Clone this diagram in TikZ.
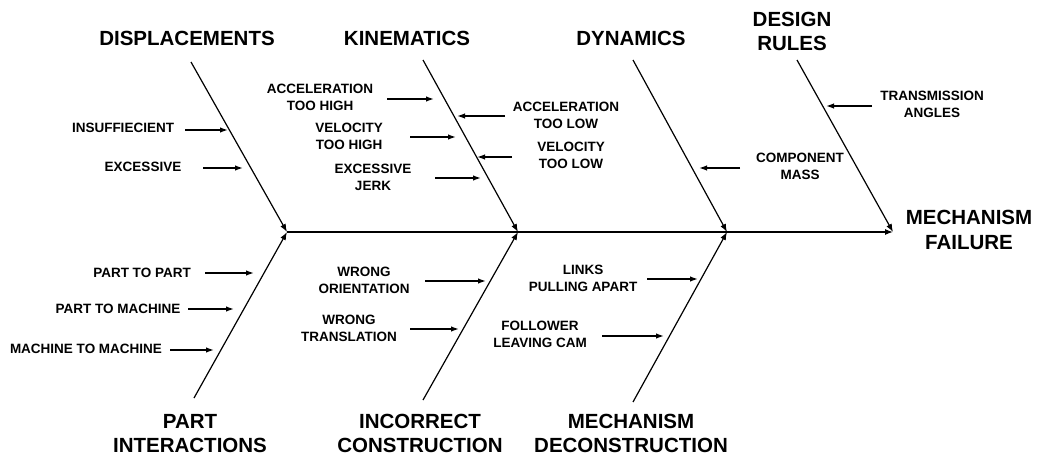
\documentclass[tikz,border=0pt]{standalone}
\usepackage{fontspec}
\setmainfont{Liberation Sans}
\usetikzlibrary{arrows.meta}
\begin{document}
\begin{tikzpicture}[x=1pt,y=-1pt,
  big/.style={font=\fontsize{20.5}{24.5}\selectfont\bfseries, align=center, inner sep=0pt},
  small/.style={font=\fontsize{13.5}{17}\selectfont\bfseries, align=center, inner sep=0pt},
  bone/.style={line width=1.2pt, -{Latex[length=8pt,width=6pt]}},
  cause/.style={line width=1.4pt, -{Latex[length=8pt,width=5.5pt]}}]
\useasboundingbox (0,0) rectangle (1038,476);
% spine junctions
\coordinate (J1) at (287,232);
\coordinate (J2) at (518,232);
\coordinate (J3) at (727,232);
\coordinate (J4) at (893,232);
\coordinate (T1) at (191,62);
\coordinate (T2) at (423,60);
\coordinate (T3) at (633,60);
\coordinate (T4) at (797,60);
\coordinate (B1) at (194,398);
\coordinate (B2) at (423,400);
\coordinate (B3) at (633,402);
\draw[bone] (J1) -- (J4);
\draw[bone] (T1) -- (J1);
\draw[bone] (T2) -- (J2);
\draw[bone] (T3) -- (J3);
\draw[bone] (T4) -- (J4);
\draw[bone] (B1) -- (J1);
\draw[bone] (B2) -- (J2);
\draw[bone] (B3) -- (J3);
% main labels
\node[big] (displ) at (187,38) {DISPLACEMENTS};
\node[big] (kin) at (407,38) {KINEMATICS};
\node[big] (dyn) at (631,38) {DYNAMICS};
\node[big] (design) at (792,31.5) {DESIGN\\RULES};
\node[big] (fail) at (969,230) {MECHANISM\\FAILURE};
\node[big] (partint) at (190,433.5) {PART\\INTERACTIONS};
\node[big] (incor) at (420,433.5) {INCORRECT\\CONSTRUCTION};
\node[big] (mechdec) at (631,433.5) {MECHANISM\\DECONSTRUCTION};
% causes
\node[small] (insuf) at (123,128) {INSUFFIECIENT};
\coordinate (insufA) at (185,130); \coordinate (insufB) at (228,130);
\draw[cause] (insufA) -- (insufB);
\node[small] (exc) at (143,167) {EXCESSIVE};
\coordinate (excA) at (203,168); \coordinate (excB) at (243,168);
\draw[cause] (excA) -- (excB);
\node[small] (acch) at (320,97.5) {ACCELERATION\\TOO HIGH};
\coordinate (acchA) at (387,99); \coordinate (acchB) at (434,99);
\draw[cause] (acchA) -- (acchB);
\node[small] (velh) at (349,136.5) {VELOCITY\\TOO HIGH};
\coordinate (velhA) at (410,137); \coordinate (velhB) at (456,137);
\draw[cause] (velhA) -- (velhB);
\node[small] (jerk) at (373,177) {EXCESSIVE\\JERK};
\coordinate (jerkA) at (435,178); \coordinate (jerkB) at (481,178);
\draw[cause] (jerkA) -- (jerkB);
\node[small] (accl) at (566,115.5) {ACCELERATION\\TOO LOW};
\coordinate (acclA) at (505,116); \coordinate (acclB) at (457,116);
\draw[cause] (acclA) -- (acclB);
\node[small] (vell) at (571,155) {VELOCITY\\TOO LOW};
\coordinate (vellA) at (512,157); \coordinate (vellB) at (477,157);
\draw[cause] (vellA) -- (vellB);
\node[small] (trans) at (932,104.5) {TRANSMISSION\\ANGLES};
\coordinate (transA) at (872,106); \coordinate (transB) at (826,106);
\draw[cause] (transA) -- (transB);
\node[small] (comp) at (800,166.5) {COMPONENT\\MASS};
\coordinate (compA) at (740,168); \coordinate (compB) at (699,168);
\draw[cause] (compA) -- (compB);
\node[small] (p2p) at (142,273) {PART TO PART};
\coordinate (p2pA) at (205,273); \coordinate (p2pB) at (254,273);
\draw[cause] (p2pA) -- (p2pB);
\node[small] (p2m) at (118,309) {PART TO MACHINE};
\coordinate (p2mA) at (188,309); \coordinate (p2mB) at (234,309);
\draw[cause] (p2mA) -- (p2mB);
\node[small] (m2m) at (86,349) {MACHINE TO MACHINE};
\coordinate (m2mA) at (170,350); \coordinate (m2mB) at (214,350);
\draw[cause] (m2mA) -- (m2mB);
\node[small] (orient) at (364,280) {WRONG\\ORIENTATION};
\coordinate (orientA) at (425,281); \coordinate (orientB) at (486,281);
\draw[cause] (orientA) -- (orientB);
\node[small] (transl) at (349,328.5) {WRONG\\TRANSLATION};
\coordinate (translA) at (410,329); \coordinate (translB) at (459,329);
\draw[cause] (translA) -- (translB);
\node[small] (links) at (583,278.5) {LINKS\\PULLING APART};
\coordinate (linksA) at (647,279); \coordinate (linksB) at (698,279);
\draw[cause] (linksA) -- (linksB);
\node[small] (foll) at (540,334.5) {FOLLOWER\\LEAVING CAM};
\coordinate (follA) at (602,336); \coordinate (follB) at (664,336);
\draw[cause] (follA) -- (follB);
\end{tikzpicture}
\end{document}
